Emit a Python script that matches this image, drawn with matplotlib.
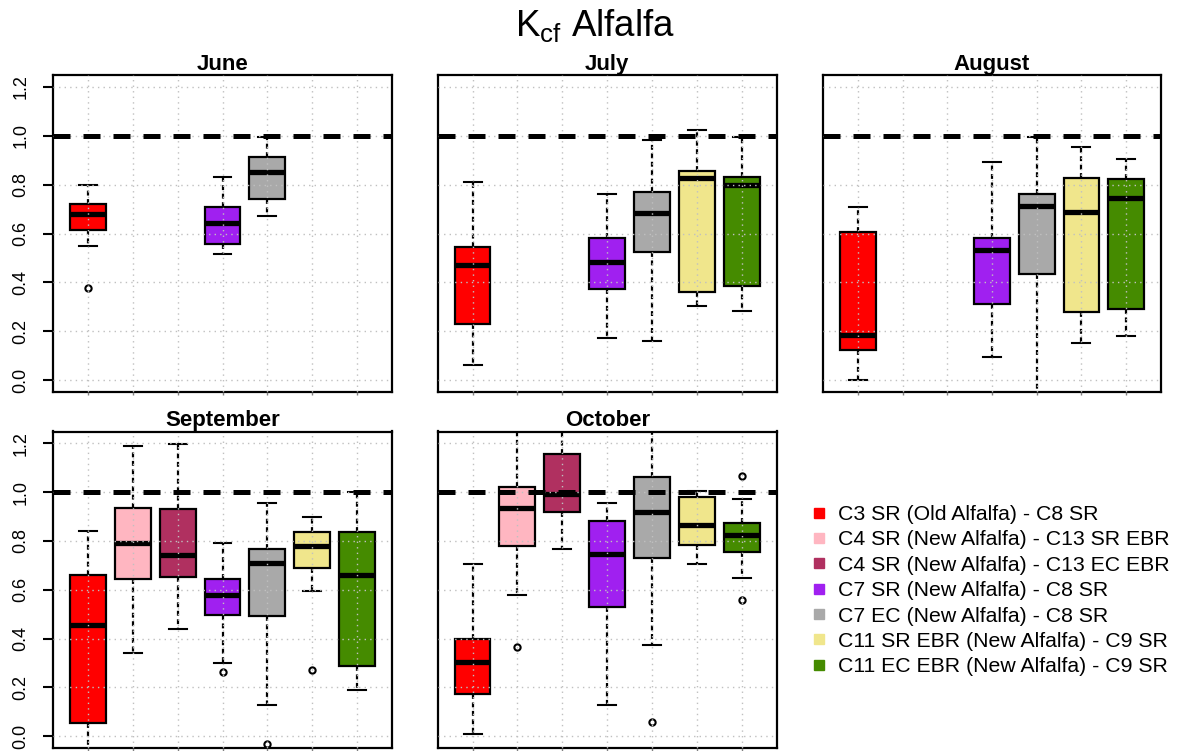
import matplotlib
matplotlib.use("Agg")
import matplotlib.pyplot as plt
from matplotlib.lines import Line2D
import numpy as np

plt.rcParams["font.family"] = ["Liberation Sans", "DejaVu Sans"]
plt.rcParams["mathtext.fontset"] = "custom"
plt.rcParams["mathtext.rm"] = "Liberation Sans"
plt.rcParams["mathtext.it"] = "Liberation Sans:italic"

groups = [
    "C3 SR (Old Alfalfa) - C8 SR",
    "C4 SR (New Alfalfa) - C13 SR EBR",
    "C4 SR (New Alfalfa) - C13 EC EBR",
    "C7 SR (New Alfalfa) - C8 SR",
    "C7 EC (New Alfalfa) - C8 SR",
    "C11 SR EBR (New Alfalfa) - C9 SR",
    "C11 EC EBR (New Alfalfa) - C9 SR",
]
colors = ["#FF0000", "#FFB6C1", "#B03060", "#A020F0", "#A9A9A9", "#F0E68C", "#458B00"]
months = ["June", "July", "August", "September", "October"]

N = None
# Box statistics per month (rows) and comparison (columns); None = no data
whislo = [
    [0.548, N, N, 0.516, 0.673, N, N],
    [0.061, N, N, 0.173, 0.160, 0.302, 0.283],
    [0.003, N, N, 0.094, -0.120, 0.151, 0.179],
    [-0.100, 0.343, 0.441, 0.301, 0.128, 0.596, 0.190],
    [0.008, 0.580, 0.767, 0.128, 0.373, 0.706, 0.650],
]
q1 = [
    [0.616, N, N, 0.556, 0.742, N, N],
    [0.228, N, N, 0.372, 0.523, 0.360, 0.387],
    [0.124, N, N, 0.310, 0.436, 0.279, 0.291],
    [0.054, 0.646, 0.654, 0.498, 0.491, 0.691, 0.286],
    [0.174, 0.778, 0.917, 0.528, 0.729, 0.784, 0.755],
]
med = [
    [0.680, N, N, 0.643, 0.853, N, N],
    [0.473, N, N, 0.485, 0.685, 0.825, 0.800],
    [0.183, N, N, 0.531, 0.711, 0.688, 0.747],
    [0.456, 0.792, 0.741, 0.580, 0.710, 0.778, 0.661],
    [0.303, 0.936, 0.993, 0.746, 0.918, 0.864, 0.826],
]
q3 = [
    [0.720, N, N, 0.707, 0.911, N, N],
    [0.546, N, N, 0.583, 0.769, 0.856, 0.832],
    [0.605, N, N, 0.583, 0.760, 0.825, 0.822],
    [0.659, 0.935, 0.929, 0.642, 0.765, 0.838, 0.838],
    [0.397, 1.020, 1.155, 0.882, 1.061, 0.978, 0.873],
]
whishi = [
    [0.799, N, N, 0.829, 0.993, N, N],
    [0.810, N, N, 0.762, 0.983, 1.022, 0.995],
    [0.707, N, N, 0.893, 0.995, 0.954, 0.905],
    [0.839, 1.190, 1.196, 0.792, 0.954, 0.899, 0.999],
    [0.705, 1.300, 1.300, 0.956, 1.300, 1.004, 0.973],
]
fliers = [
    [[0.378], [], [], [], [], [], []],
    [[], [], [], [], [], [], []],
    [[], [], [], [], [], [], []],
    [[], [], [], [0.264], [-0.031], [0.272], []],
    [[], [0.367], [], [], [0.059], [], [1.067, 0.559]],
]
yticks = [0.0, 0.2, 0.4, 0.6, 0.8, 1.0, 1.2]

W, H = 1177, 751
fig = plt.figure(figsize=(W / 100, H / 100), dpi=100)

# panel rectangles in pixels: left, top, right, bottom
rects = [
    (53, 75, 392, 392),
    (437.5, 75, 777, 392),
    (823, 75, 1161, 392),
    (53, 431.5, 392, 748),
    (437.5, 431.5, 777, 748),
]

grid_kw = dict(color="#C0C0C0", linewidth=1.0, linestyle=(0, (1, 3)))

for m, (l, t, r, b) in enumerate(rects):
    ax = fig.add_axes([l / W, 1 - b / H, (r - l) / W, (b - t) / H])
    stats, pos, cols = [], [], []
    for g in range(len(groups)):
        if med[m][g] is None:
            continue
        stats.append(dict(med=med[m][g], q1=q1[m][g], q3=q3[m][g],
                          whislo=whislo[m][g], whishi=whishi[m][g],
                          fliers=np.array(fliers[m][g])))
        pos.append(g + 1)
        cols.append(colors[g])
    bp = ax.bxp(stats, positions=pos, widths=0.8, patch_artist=True,
                manage_ticks=False,
                boxprops=dict(linewidth=1.6, edgecolor="black"),
                medianprops=dict(color="black", linewidth=3.8, solid_capstyle="butt"),
                whiskerprops=dict(color="black", linewidth=1.6, linestyle=(0, (2.2, 1.6))),
                capprops=dict(color="black", linewidth=1.5),
                flierprops=dict(marker="o", markerfacecolor="none",
                                markeredgecolor="black", markersize=4.5,
                                markeredgewidth=1.5))
    for patch, c in zip(bp["boxes"], cols):
        patch.set_facecolor(c)

    ax.set_xlim(0.22, 7.78)
    ax.set_ylim(-0.048, 1.248)
    ax.set_xticks(range(1, 8))
    ax.set_yticks(yticks)
    ax.set_xticklabels([])
    ax.set_axisbelow(False)
    ax.grid(True, **grid_kw)
    ax.axhline(1.0, color="black", linewidth=3.6, linestyle=(0, (3.4, 2.6)), zorder=3)

    for s in ax.spines.values():
        s.set_linewidth(1.6)
    ax.tick_params(axis="x", length=2.5, width=1, color="#808080")
    if m in (0, 3):
        ax.set_yticklabels([f"{v:.1f}" for v in yticks])
        ax.tick_params(axis="y", length=7, width=1.5, labelsize=13, pad=10,
                       labelrotation=90)
        for lab in ax.get_yticklabels():
            lab.set_va("center")
    else:
        ax.tick_params(axis="y", length=0, labelleft=False)
    ax.set_title(months[m], fontsize=16, fontweight="bold", pad=3.5)

fig.text(0.506, 1 - 36 / H, r"K$_{\mathrm{cf}}$ Alfalfa", fontsize=26.5,
         ha="center", va="baseline")

handles = [Line2D([], [], marker="s", linestyle="none", markersize=7,
                  markerfacecolor=c, markeredgecolor=c) for c in colors]
fig.legend(handles, groups, loc="upper left", bbox_to_anchor=(813 / W, 1 - 505 / H),
           frameon=False, fontsize=15.3, handlelength=0.6, handletextpad=0.6,
           labelspacing=0.3, borderpad=0, borderaxespad=0)

fig.savefig("out.png", dpi=100)
